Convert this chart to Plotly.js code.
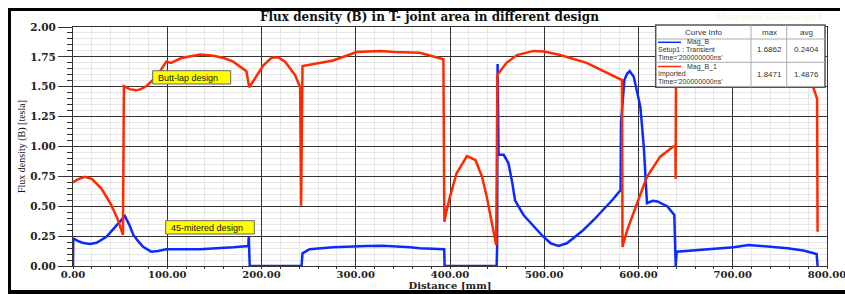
<!DOCTYPE html>
<html><head><meta charset="utf-8">
<script src="https://cdn.plot.ly/plotly-3.0.1.min.js"></script>
<style>html,body{margin:0;padding:0;background:#fff;}#chart{width:845px;height:294px;}</style>
</head><body><div id="chart"></div>
<script>
// ---- data ----
const magB_x = [0,0.3,5,10,17.7,25,35.5,44,50,55,60,64,70,74.4,83,90,99,134.6,170,186,186.5,187.5,242.5,243.5,251,276,311.7,329,357.7,368,393.8,394.3,449.5,450,450.5,451.5,457,462,466,469,478,490,499,507,515,524,540,552.4,572,581,581.5,585,588,590.7,595,602,605.6,609,615,620,630.4,638,639.5,640.5,669,701,717,740,758,775,789,790];
const magB_y = [0,0.232,0.21,0.195,0.184,0.195,0.245,0.32,0.37,0.418,0.34,0.26,0.2,0.16,0.12,0.125,0.14,0.14,0.156,0.167,0.25,0,0,0.106,0.14,0.157,0.167,0.17,0.157,0.148,0.14,0,0,0.16,1.69,0.93,0.93,0.86,0.7,0.55,0.427,0.32,0.245,0.19,0.167,0.19,0.29,0.385,0.55,0.636,1.2,1.556,1.61,1.63,1.584,1.33,1.0,0.525,0.545,0.54,0.50,0.427,0,0.12,0.14,0.157,0.176,0.162,0.148,0.13,0.10,0];
const magB1_x = [0,5,12.4,20,30,40,47,53,54,60,67,72,78,88.6,99,104,115,135,149,160,170,184,187,195,202,211,218,225,235.5,241,242,243.5,276,301,326,342,368,393,394,396.6,400,407,418,427,434,439,449,450.3,460,471,488.7,500,517,545,582.5,583,588,598.5,609,623,637,639.2,639.4,639.8,650,700,750,780,786,789.5,790];
const magB1_y = [0.70,0.725,0.747,0.73,0.65,0.52,0.40,0.26,1.506,1.48,1.47,1.48,1.506,1.585,1.71,1.70,1.74,1.77,1.76,1.74,1.71,1.63,1.495,1.60,1.68,1.745,1.745,1.71,1.60,1.495,0.505,1.674,1.72,1.79,1.80,1.79,1.785,1.73,0.37,0.47,0.58,0.776,0.92,0.887,0.747,0.58,0.176,1.60,1.70,1.765,1.80,1.795,1.765,1.70,1.556,0.16,0.30,0.525,0.747,0.915,1.0,1.0,0.73,1.6,1.72,1.80,1.76,1.62,1.49,1.40,0.287];
const xTickVals = [0,100,200,300,400,500,600,700,800];
const xTickText = ['0.00','100.00','200.00','300.00','400.00','500.00','600.00','700.00','800.00'];
const yTickVals = [0,0.25,0.5,0.75,1,1.25,1.5,1.75,2];
const yTickText = ['0.00','0.25','0.50','0.75','1.00','1.25','1.50','1.75','2.00'];
const curveNames = ['Mag_B','Mag_B_1'];
const curveSources = ['Setup1 : Transient','Imported'];
const curveTimes = ["Time='200000000ns'","Time='200000000ns'"];
const curveMax = ['1.6862','1.8471'];
const curveAvg = ['0.2404','1.4876'];
const curveColors = ['#0a2bff','#ff2a00'];
const noteLabels = ['Butt-lap design','45-mitered design'];
const chartTitle = 'Flux density (B) in T- joint area in different design';
const xTitle = 'Distance [mm]';
const yTitle = 'Flux density (B) [tesla]';
const watermark = 'Maxwell3DDesign1';

// ---- layout helpers (pixel -> paper) ----
const W = 845, H = 294, ML = 73, MR = 18, MT = 27, MB = 28;
const PW = W - ML - MR, PH = H - MT - MB;
const px = p => (p - ML) / PW;
const py = p => (H - MB - p) / PH;

const shapes = [];
const annotations = [];
function rect(x0, y0, x1, y1, fill, lineColor, lw) {
  shapes.push({type:'rect', xref:'paper', yref:'paper', layer:'above',
    x0:px(x0), x1:px(x1), y0:py(y1), y1:py(y0),
    fillcolor: fill, line:{color: lineColor || fill, width: lw === undefined ? 0 : lw}});
}
function hline(x0, x1, y, color, w) {
  shapes.push({type:'line', xref:'paper', yref:'paper', layer:'above',
    x0:px(x0), x1:px(x1), y0:py(y), y1:py(y), line:{color, width:w}});
}
function vline(x, y0, y1, color, w) {
  shapes.push({type:'line', xref:'paper', yref:'paper', layer:'above',
    x0:px(x), x1:px(x), y0:py(y0), y1:py(y1), line:{color, width:w}});
}
const tableFont = {family:'Liberation Sans, Arial, sans-serif', size:7, color:'#333'};
function text(t, x, y, opts) {
  annotations.push(Object.assign({text:t, xref:'paper', yref:'paper', x:px(x), y:py(y),
    showarrow:false, xanchor:'center', yanchor:'middle', borderpad:0,
    font:tableFont}, opts || {}));
}

// outer black frame
rect(8, 8, 840, 11, '#000');
rect(8, 8, 11, 294, '#000');
rect(8, 290, 845, 294, '#000');

// curve info table
rect(655.7, 25, 825, 87.3, '#fff', '#555', 1.5);
hline(655.7, 825, 39, '#aaa', 1);
hline(655.7, 825, 62.3, '#aaa', 1);
vline(751, 25, 87.3, '#aaa', 1);
vline(786.7, 25, 87.3, '#aaa', 1);
const headFont = {family:'Liberation Sans, Arial, sans-serif', size:8, color:'#333'};
text('Curve Info', 703, 32, {font:headFont});
text('max', 769, 32, {font:headFont});
text('avg', 806, 32, {font:headFont});
const rowTop = [42.3, 66.5];
for (let i = 0; i < 2; i++) {
  const y0 = rowTop[i];
  hline(658, 681, y0, curveColors[i], 1.5);
  text(curveNames[i], 686, y0, {xanchor:'left'});
  text(curveSources[i], 657, y0 + 7.7, {xanchor:'left'});
  text(curveTimes[i], 657, y0 + 15.2, {xanchor:'left'});
  text(curveMax[i], 769, y0 + 7.7, {font:headFont});
  text(curveAvg[i], 806, y0 + 7.7, {font:headFont});
}

// yellow notes
const noteFont = {family:'Liberation Sans, Arial, sans-serif', size:9, color:'#111'};
rect(152.7, 70.7, 230.7, 84, '#ffff00', '#666', 1);
text(noteLabels[0], 157, 77.5, {xanchor:'left', font:noteFont});
rect(165.7, 220.7, 254.3, 234, '#ffff00', '#666', 1);
text(noteLabels[1], 170, 227.5, {xanchor:'left', font:noteFont});

// faint watermark
text(watermark, 769, 16, {font:{family:'DejaVu Serif', size:10, weight:'bold', color:'#fbf6e6'}});

const axisFont = {family:'DejaVu Serif', size:10.5, weight:'bold', color:'#222'};
const xFont = {family:'DejaVu Serif', size:10, weight:'bold', color:'#222'};

const traces = [
  {x: magB_x, y: magB_y, mode:'lines', name: curveNames[0], line:{color:curveColors[0], width:2.5}, showlegend:false},
  {x: magB1_x, y: magB1_y, mode:'lines', name: curveNames[1], line:{color:curveColors[1], width:2.5}, showlegend:false}
];

const layout = {
  width: W, height: H,
  margin: {l:ML, r:MR, t:MT, b:MB, pad:0},
  paper_bgcolor:'#fff', plot_bgcolor:'#fff',
  showlegend:false,
  title: {text: chartTitle, font:{family:'DejaVu Serif', size:12, weight:'bold', color:'#111'},
    xref:'container', yref:'container', x:429.5/W, y:1 - 16.5/H, xanchor:'center', yanchor:'middle'},
  xaxis: {range:[0,800], tickmode:'array', tickvals:xTickVals, ticktext:xTickText,
    tickfont: xFont, ticks:'outside', ticklen:2, tickcolor:'#333',
    ticklabelstandoff:-3, ticklabeloverflow:'allow',
    showgrid:true, gridcolor:'#333', gridwidth:1, zeroline:false,
    showline:true, linecolor:'#333', linewidth:1, mirror:true,
    minor:{dtick:20, showgrid:true, gridcolor:'#e6e6e6', ticks:'outside', ticklen:2, tickcolor:'#333'},
    title:{text:xTitle, font:xFont, standoff:0}, automargin:false},
  yaxis: {range:[0,2], tickmode:'array', tickvals:yTickVals, ticktext:yTickText,
    tickfont: axisFont, ticks:'outside', ticklen:14, tickcolor:'#333',
    showgrid:true, gridcolor:'#333', gridwidth:1, zeroline:false,
    showline:true, linecolor:'#333', linewidth:1, mirror:true,
    minor:{dtick:0.05, showgrid:true, gridcolor:'#e6e6e6', ticks:'outside', ticklen:5, tickcolor:'#333'},
    title:{text:yTitle, font:{family:'Liberation Serif', size:10, color:'#111'}, standoff:2}, automargin:false},
  shapes: shapes,
  annotations: annotations
};

Plotly.newPlot('chart', traces, layout, {displayModeBar:false, staticPlot:true});
</script>
</body></html>
